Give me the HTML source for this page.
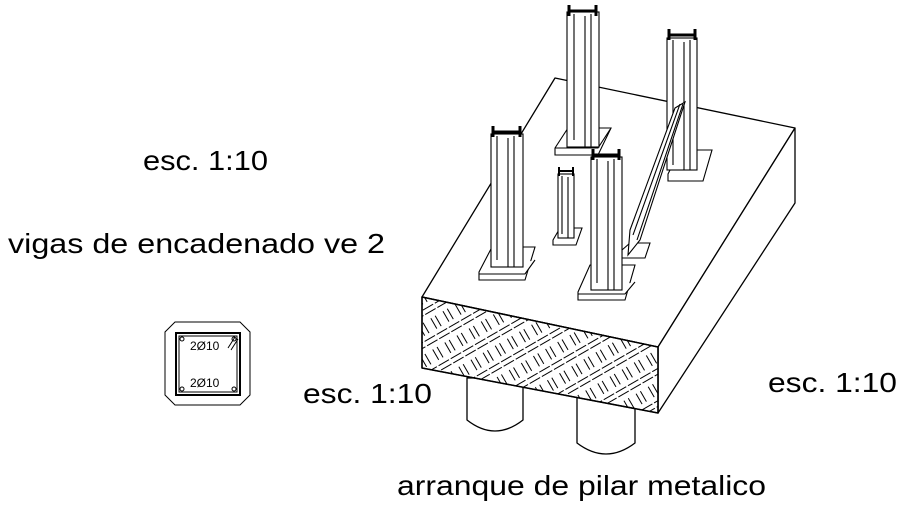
<!DOCTYPE html>
<html><head><style>
body{margin:0;background:#fff;width:904px;height:506px;overflow:hidden}
svg{display:block}
text{font-family:"Liberation Sans",sans-serif;fill:#000}
</style></head><body>
<svg width="904" height="506" viewBox="0 0 904 506" xmlns="http://www.w3.org/2000/svg">
<defs>
<pattern id="bw" width="28" height="28" patternUnits="userSpaceOnUse" patternTransform="rotate(-30)">
<g stroke="#000" stroke-width="1" fill="none">
<path d="M1 4H13M1 9H13"/>
<path d="M18 15V27M23 15V27"/>
<path d="M4 15V27M9 15V27"/>
<path d="M15 4H27M15 9H27"/>
</g>
</pattern>
</defs>
<g stroke="#000" stroke-width="1.3" fill="#fff" stroke-linejoin="round">
<path d="M467 378V420Q495 442 523 420V378Z"/>
<path d="M577 390V443Q606 465 635 443V390Z"/>
<polygon points="555,78 795,128 658,347 422,297"/>
<polygon points="795,128 795,203 658,413 658,347"/>
<polygon points="422,297 658,347 658,413 422,368" fill="#fff"/>
<polygon points="422,297 658,347 658,413 422,368" fill="url(#bw)" stroke-width="1.5"/>
</g>
<g stroke="#000" stroke-width="1.1" fill="#fff">
<polygon points="555,148 568,128 611,128 598,155 555,155"/>
<path d="M555 148H598L611 128"/>
<rect x="567" y="12" width="32" height="135"/>
<path d="M574 14V140M585 16V147M591 14V147"/>
<path d="M569 5V16M596 5V16M569 11H596" stroke-width="3" fill="none"/>
<polygon points="668,174 680,150 712,150 703,181 668,181"/>
<rect x="667" y="38" width="30" height="132"/>
<path d="M673 40V165M684 42V170M690 40V170"/>
<path d="M669 29V40M695 29V40M669 35H695" stroke-width="3" fill="none"/>
<polygon points="479,272 492,247 535,247 525,280 479,280"/>
<path d="M479 274H525L535 260"/>
<rect x="491" y="134" width="32" height="133"/>
<path d="M497 136V260M508 138V267M514 136V267"/>
<path d="M493 126V137M520 126V137M493 132H520" stroke-width="3" fill="none"/>
<polygon points="553,240 560,228 582,228 576,245 553,245"/>
<rect x="558" y="174" width="16" height="64"/>
<path d="M562 176V234M568 177V238"/>
<path d="M559 167V176M573 167V176M559 171H573" stroke-width="2" fill="none"/>
<polygon points="622,250 630,243 650,243 645,258 622,258"/>
<polygon points="675,108 685,102 640,240 628,255 630,230"/>
<path d="M680 104L633 235M683 104L637 240"/>
<polygon points="578,292 590,265 635,265 625,300 578,300"/>
<path d="M578 294H625L635 282"/>
<rect x="591" y="157" width="31" height="133"/>
<path d="M597 159V283M608 161V290M614 159V290"/>
<path d="M593 149V160M619 149V160M593 155H619" stroke-width="3" fill="none"/>
</g>
<g stroke="#000" fill="none" stroke-width="1">
<polygon points="175,322 240,322 250,332 250,395 240,405 175,405 165,395 165,332"/>
<rect x="176" y="333" width="64" height="62" stroke-width="2"/>
<rect x="179" y="336" width="58" height="56"/>
<path d="M228 348L235 337M231 350L238 339"/>
<circle cx="182" cy="339" r="2"/><circle cx="234" cy="339" r="2"/><circle cx="182" cy="389" r="2"/><circle cx="234" cy="389" r="2"/>
</g>
<text x="190" y="350" font-size="12">2Ø10</text>
<text x="190" y="387" font-size="12">2Ø10</text>
<text x="143" y="170" font-size="28" textLength="125" lengthAdjust="spacingAndGlyphs">esc. 1:10</text>
<text x="8" y="253" font-size="28" textLength="377" lengthAdjust="spacingAndGlyphs">vigas de encadenado ve 2</text>
<text x="303" y="403" font-size="28" textLength="129" lengthAdjust="spacingAndGlyphs">esc. 1:10</text>
<text x="768" y="392" font-size="28" textLength="129" lengthAdjust="spacingAndGlyphs">esc. 1:10</text>
<text x="397" y="495" font-size="28" textLength="369" lengthAdjust="spacingAndGlyphs">arranque de pilar metalico</text>
</svg>
</body></html>
